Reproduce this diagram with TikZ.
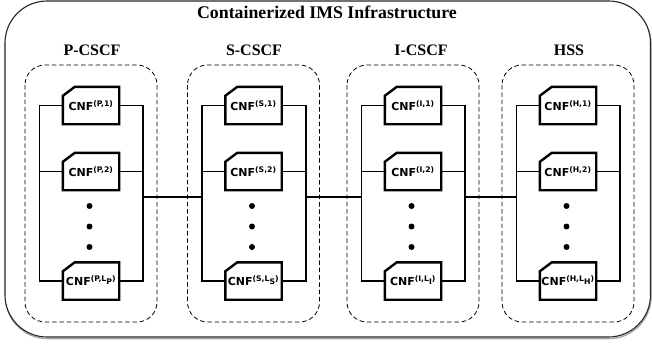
\documentclass[tikz,border=0pt]{standalone}
\usepackage{fontspec}
\setmainfont{Liberation Serif}
\newfontfamily\cnffont{DejaVu Sans}
\usetikzlibrary{calc}
\begin{document}
\begin{tikzpicture}[x=1pt,y=-1pt,
  outerbox/.style={draw=black!85, line width=1.1pt, rounded corners=42pt, fill=white},
  shadowbox/.style={draw=black!35, line width=1.4pt, rounded corners=42pt},
  groupbox/.style={draw=black, line width=0.8pt, dash pattern=on 4.5pt off 2.8pt, rounded corners=20pt},
  cnfnode/.style={minimum width=56pt, minimum height=37pt, inner sep=0pt, font=\cnffont\bfseries\fontsize{11}{13}\selectfont},
  cnfline/.style={draw=black, line width=2.4pt, line join=miter},
  bus/.style={draw=black, line width=1.6pt},
  grouplabel/.style={font=\bfseries\fontsize{16}{18}\selectfont},
  titlelabel/.style={font=\bfseries\fontsize{17.8}{20}\selectfont},
  dotmark/.style={fill=black}]
\useasboundingbox (0,0) rectangle (652,348);
% outer container
\draw[shadowbox] (5.5,2.6) rectangle (651,338.6);
\draw[outerbox] (5,1) rectangle (650.5,337);
\node[titlelabel] (title) at (327,12.5) {Containerized IMS Infrastructure};
\foreach \c/\cx/\lx/\lab in {P/91/92/P-CSCF, S/253.5/254/S-CSCF, I/413/421/I-CSCF, H/568/569/HSS}{
  \node[grouplabel] (\c-label) at (\lx,50) {\lab};
  \draw[groupbox] (\cx-66,65) rectangle (\cx+66,322);
  \node[cnfnode] (\c1) at (\cx,105.5) {CNF\textsuperscript{(\c,1)}};
  \node[cnfnode] (\c2) at (\cx,171.5) {CNF\textsuperscript{(\c,2)}};
  \node[cnfnode] (\c3) at (\cx,281) {CNF\textsuperscript{(\c,L\raisebox{-2.2pt}{\c})}};
  \coordinate (\c-bl) at (\cx-51.5,197);
  \coordinate (\c-br) at (\cx+52,197);
  \draw[bus] (\c1.west) -- ++(-23.5pt,0pt) |- (\c3.west);
  \draw[bus] (\c2.west) -- ++(-23.5pt,0pt);
  \draw[bus] (\c1.east) -- ++(24pt,0pt) |- (\c3.east);
  \draw[bus] (\c2.east) -- ++(24pt,0pt);
  \foreach \n in {1,2,3}{
    \draw[cnfline] ([yshift=-9pt]\c\n.north west) -- ([xshift=12pt]\c\n.north west) -- (\c\n.north east) -- (\c\n.south east) -- (\c\n.south west) -- cycle;
  }
  \fill[dotmark] (\cx-1.5,206) circle (3pt);
  \fill[dotmark] (\cx-1.5,226.5) circle (3pt);
  \fill[dotmark] (\cx-1.5,247) circle (3pt);
}
\draw[bus] (P-br) -- (S-bl);
\draw[bus] (S-br) -- (I-bl);
\draw[bus] (I-br) -- (H-bl);
\end{tikzpicture}
\end{document}
